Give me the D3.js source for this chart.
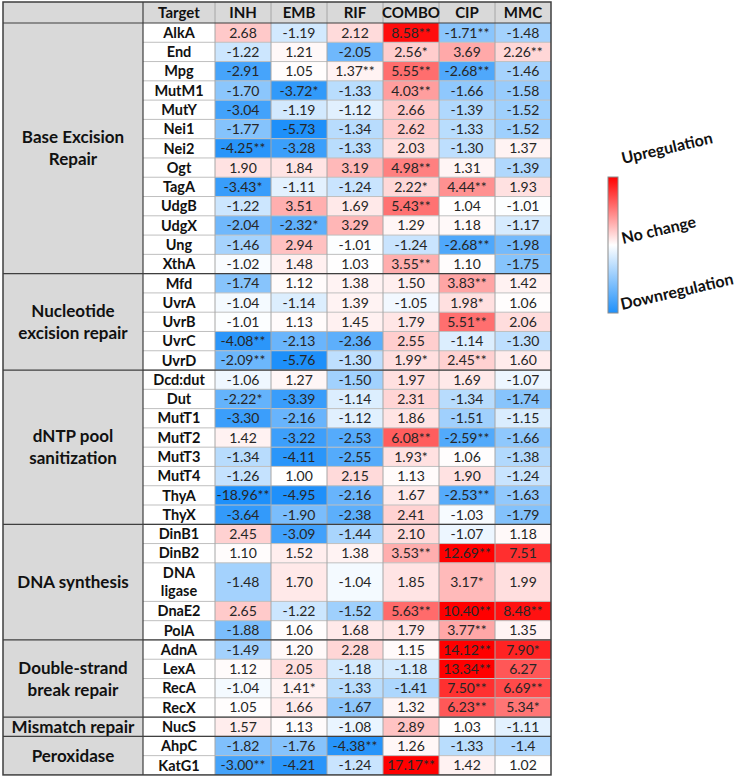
<!DOCTYPE html>
<html><head><meta charset="utf-8">
<script src="https://cdn.jsdelivr.net/npm/d3@7"></script>
<style>body{margin:0;background:#fff}svg{display:block}</style>
</head><body>
<svg id="c" width="735" height="778"></svg>
<script>
const drugs = ["INH","EMB","RIF","COMBO","CIP","MMC"];
const targets = ["AlkA","End","Mpg","MutM1","MutY","Nei1","Nei2","Ogt","TagA","UdgB","UdgX","Ung","XthA",
 "Mfd","UvrA","UvrB","UvrC","UvrD",
 "Dcd:dut","Dut","MutT1","MutT2","MutT3","MutT4","ThyA","ThyX",
 "DinB1","DinB2","DNA ligase","DnaE2","PolA",
 "AdnA","LexA","RecA","RecX","NucS","AhpC","KatG1"];
const rowUnits = targets.map(t => t === "DNA ligase" ? 2 : 1);
const groups = ["Base Excision|Repair","Nucleotide|excision repair","dNTP pool|sanitization","DNA synthesis","Double-strand|break repair","Mismatch repair","Peroxidase"];
const groupSizes = [13,5,8,5,4,1,2];

const INH = ["2.68","-1.22","-2.91","-1.70","-3.04","-1.77","-4.25**","1.90","-3.43*","-1.22","-2.04","-1.46","-1.02",
 "-1.74","-1.04","-1.01","-4.08**","-2.09**",
 "-1.06","-2.22*","-3.30","1.42","-1.34","-1.26","-18.96**","-3.64",
 "2.45","1.10","-1.48","2.65","-1.88",
 "-1.49","1.12","-1.04","1.05","1.57","-1.82","-3.00**"];
const EMB = ["-1.19","1.21","1.05","-3.72*","-1.19","-5.73","-3.28","1.84","-1.11","3.51","-2.32*","2.94","1.48",
 "1.12","-1.14","1.13","-2.13","-5.76",
 "1.27","-3.39","-2.16","-3.22","-4.11","1.00","-4.95","-1.90",
 "-3.09","1.52","1.70","-1.22","1.06",
 "1.20","2.05","1.41*","1.66","1.13","-1.76","-4.21"];
const RIF = ["2.12","-2.05","1.37**","-1.33","-1.12","-1.34","-1.33","3.19","-1.24","1.69","3.29","-1.01","1.03",
 "1.38","1.39","1.45","-2.36","-1.30",
 "-1.50","-1.14","-1.12","-2.53","-2.55","2.15","-2.16","-2.38",
 "-1.44","1.38","-1.04","-1.52","1.68",
 "2.28","-1.18","-1.33","-1.67","-1.08","-4.38**","-1.24"];
const COMBO = ["8.58**","2.56*","5.55**","4.03**","2.66","2.62","2.03","4.98**","2.22*","5.43**","1.29","-1.24","3.55**",
 "1.50","-1.05","1.79","2.55","1.99*",
 "1.97","2.31","1.86","6.08**","1.93*","1.13","1.67","2.41",
 "2.10","3.53**","1.85","5.63**","1.79",
 "1.15","-1.18","-1.41","1.32","2.89","1.26","17.17**"];
const CIP = ["-1.71**","3.69","-2.68**","-1.66","-1.39","-1.33","-1.30","1.31","4.44**","1.04","1.18","-2.68**","1.10",
 "3.83**","1.98*","5.51**","-1.14","2.45**",
 "1.69","-1.34","-1.51","-2.59**","1.06","1.90","-2.53**","-1.03",
 "-1.07","12.69**","3.17*","10.40**","3.77**",
 "14.12**","13.34**","7.50**","6.23**","1.03","-1.33","1.42"];
const MMC = ["-1.48","2.26**","-1.46","-1.58","-1.52","-1.52","1.37","-1.39","1.93","-1.01","-1.17","-1.98","-1.75",
 "1.42","1.06","2.06","-1.30","1.60",
 "-1.07","-1.74","-1.15","-1.66","-1.38","-1.24","-1.63","-1.79",
 "1.18","7.51","1.99","8.48**","1.35",
 "7.90*","6.27","6.69**","5.34*","-1.11","-1.4","1.02"];
const series = [INH, EMB, RIF, COMBO, CIP, MMC];
const legendLabels = ["Upregulation","No change","Downregulation"];

const svg = d3.select("#c");
const X0 = 3, catW = 140, tgtW = 72, colW = 56, Y0 = 2, headerH = 21, unitH = 19.28;
const FONT = "Lato, 'Open Sans', sans-serif";
const totalUnits = d3.sum(rowUnits);
const cum = [0]; rowUnits.forEach((u,i)=>cum.push(cum[i]+u));
const y = d3.scaleLinear().domain([0,totalUnits]).range([Y0+headerH, Y0+headerH+totalUnits*unitH]);
const x = d3.scaleBand().domain(drugs).range([X0+catW+tgtW, X0+catW+tgtW+colW*drugs.length]);
const tableRight = x.range()[1], tableBottom = y(totalUnits);

const white = "#ffffff", red = "rgb(255,0,0)", blue = "rgb(30,144,250)";
const redS = d3.scaleLinear().domain([1,9]).range([0,1]).clamp(true);
const blueS = d3.scaleLinear().domain([0,0.8]).range([0,1]).clamp(true);
function color(v){
  if (v >= 0) return d3.interpolateRgb(white, red)(redS(v));
  return d3.interpolateRgb(white, blue)(blueS(1 - 1/Math.abs(v)));
}

svg.append("rect").attr("x",X0).attr("y",Y0).attr("width",tableRight-X0).attr("height",headerH).attr("fill","#d9d9d9");
svg.append("rect").attr("x",X0).attr("y",y(0)).attr("width",catW).attr("height",tableBottom-y(0)).attr("fill","#d9d9d9");

drugs.forEach((d,j)=>{
  const g = svg.append("g");
  series[j].forEach((s,i)=>{
    const v = parseFloat(s);
    g.append("rect").attr("x",x(d)).attr("y",y(cum[i])).attr("width",x.bandwidth()).attr("height",y(cum[i+1])-y(cum[i]))
      .attr("fill",color(v));
    g.append("text").attr("x",x(d)+x.bandwidth()/2).attr("y",(y(cum[i])+y(cum[i+1]))/2)
      .attr("dy","0.36em").attr("text-anchor","middle").attr("font-family",FONT).attr("font-size",14)
      .attr("fill","#262626").text(s);
  });
});

const lines = svg.append("g");
targets.forEach((t,i)=>{ if(i>0) lines.append("line").attr("x1",X0+catW).attr("x2",tableRight)
  .attr("y1",y(cum[i])).attr("y2",y(cum[i])).attr("stroke","#bfbfbf").attr("stroke-width",1); });
drugs.forEach((d,j)=>{ lines.append("line").attr("x1",x(d)).attr("x2",x(d)).attr("y1",Y0).attr("y2",tableBottom)
  .attr("stroke", "#a6a6a6").attr("stroke-width",1); });
const dark = "#3f3f3f";
lines.append("line").attr("x1",X0+catW).attr("x2",X0+catW).attr("y1",Y0).attr("y2",tableBottom).attr("stroke",dark).attr("stroke-width",1.2);
lines.append("line").attr("x1",X0).attr("x2",tableRight).attr("y1",y(0)).attr("y2",y(0)).attr("stroke",dark).attr("stroke-width",1.2);
let gi = 0;
groupSizes.forEach((n,k)=>{
  const a = gi, b = gi+n; gi = b;
  if (k>0) lines.append("line").attr("x1",X0).attr("x2",tableRight).attr("y1",y(cum[a])).attr("y2",y(cum[a])).attr("stroke",dark).attr("stroke-width",1.2);
  const parts = groups[k].split("|");
  const cy = (y(cum[a])+y(cum[b]))/2;
  const lh = 22;
  parts.forEach((p,m)=>{
    svg.append("text").attr("x",X0+catW/2).attr("y",cy + (m-(parts.length-1)/2)*lh).attr("dy","0.36em")
      .attr("text-anchor","middle").attr("font-family",FONT).attr("font-weight","bold").attr("font-size",17)
      .attr("fill","#111").text(p);
  });
});
svg.append("rect").attr("x",X0).attr("y",Y0).attr("width",tableRight-X0).attr("height",tableBottom-Y0)
  .attr("fill","none").attr("stroke",dark).attr("stroke-width",1.5);

svg.append("text").attr("x",X0+catW+tgtW/2).attr("y",Y0+headerH/2).attr("dy","0.36em").attr("text-anchor","middle")
  .attr("font-family",FONT).attr("font-weight","bold").attr("font-size",15).attr("fill","#111").text("Target");
drugs.forEach(d=>{
  svg.append("text").attr("x",x(d)+x.bandwidth()/2).attr("y",Y0+headerH/2).attr("dy","0.36em").attr("text-anchor","middle")
    .attr("font-family",FONT).attr("font-weight","bold").attr("font-size",15).attr("fill","#111").text(d);
});
targets.forEach((t,i)=>{
  const cy = (y(cum[i])+y(cum[i+1]))/2;
  const parts = t === "DNA ligase" ? ["DNA","ligase"] : [t];
  parts.forEach((p,m)=>{
    svg.append("text").attr("x",X0+catW+tgtW/2).attr("y",cy+(m-(parts.length-1)/2)*18).attr("dy","0.36em")
      .attr("text-anchor","middle").attr("font-family",FONT).attr("font-weight","bold").attr("font-size",14.5)
      .attr("fill","#111").text(p);
  });
});

const defs = svg.append("defs");
const grad = defs.append("linearGradient").attr("id","lg").attr("x1",0).attr("x2",0).attr("y1",0).attr("y2",1);
grad.append("stop").attr("offset","0%").attr("stop-color",red);
grad.append("stop").attr("offset","50%").attr("stop-color",white);
grad.append("stop").attr("offset","100%").attr("stop-color",blue);
svg.append("rect").attr("x",608).attr("y",177).attr("width",10).attr("height",136).attr("fill","url(#lg)")
  .attr("stroke","#8c8c8c").attr("stroke-width",1);
const lpos = [[623,164],[623,244],[622,310]];
legendLabels.forEach((l,i)=>{
  svg.append("text").attr("transform",`translate(${lpos[i][0]},${lpos[i][1]}) rotate(-13)`)
    .attr("font-family",FONT).attr("font-weight","bold").attr("font-size",16).attr("fill","#111").text(l);
});
</script>
</body></html>
